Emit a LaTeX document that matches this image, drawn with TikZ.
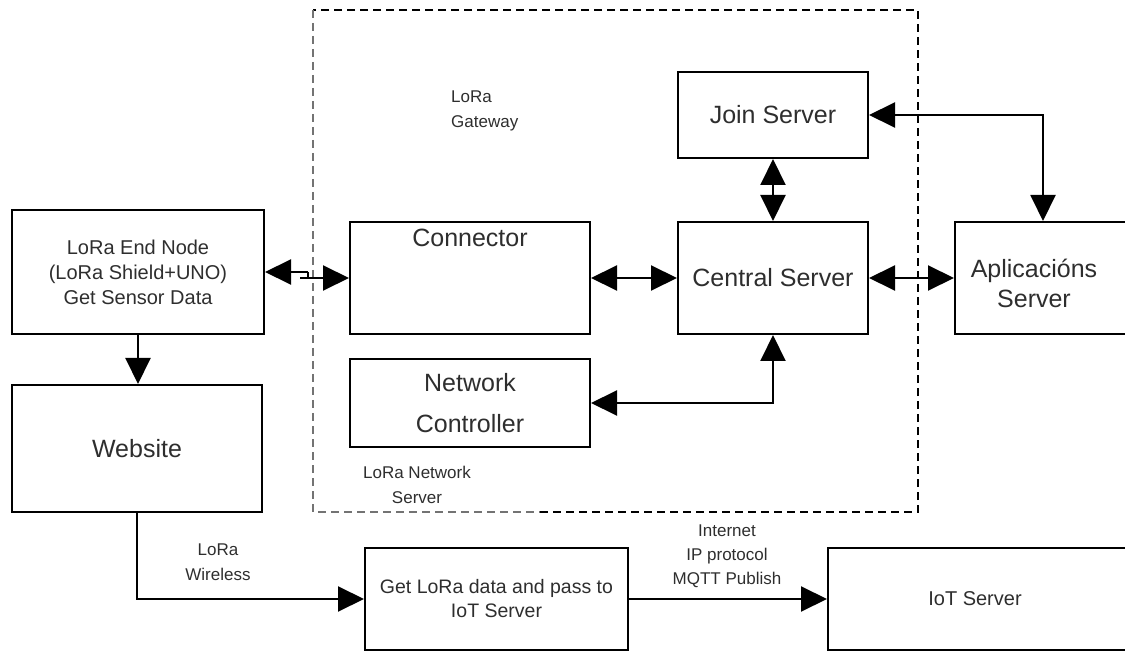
\documentclass[tikz,border=0pt]{standalone}
\usepackage{fontspec}
\setmainfont{Liberation Sans}
\usetikzlibrary{arrows.meta}
\definecolor{ink}{HTML}{2E2E2E}
\tikzset{
  box/.style={draw=black, line width=2pt, inner sep=0pt, align=center, text=ink},
  big/.style={font=\fontsize{25}{30}\selectfont},
  small/.style={font=\fontsize{17}{25}\selectfont, text=ink, inner sep=0pt},
  wire/.style={line width=2pt},
  tip/.tip={Triangle[length=26pt,width=25pt]},
  one/.style={wire, -tip},
  two/.style={wire, tip-tip},
  zone/.style={line width=2.4pt, dash pattern=on 8pt off 5pt},
}
\begin{document}
\begin{tikzpicture}[x=1pt,y=-1pt]
\useasboundingbox (0,0) rectangle (1125,652);

% network server frame
\draw[zone, black] (540,512) -- (918,512) -- (918,10) -- (313,10);
\draw[zone, black!55] (313,10) -- (313,512) -- (540,512);

% boxes
\node[box, minimum width=252, minimum height=124, font=\fontsize{20}{25}\selectfont]
  (endnode) at (138,272) {LoRa End Node\\(LoRa Shield+UNO)\\Get Sensor Data};
\node[box, big, minimum width=250, minimum height=127] (website) at (137,448.5) {Website};
\node[box, minimum width=240, minimum height=112,
  label={[big, text=ink, anchor=north, inner sep=0pt, yshift=-8pt]north:Connector}]
  (connector) at (470,278) {};
\node[box, big, minimum width=190, minimum height=112] (central) at (773,278) {Central Server};
\node[box, big, minimum width=190, minimum height=86] (join) at (773,115) {Join Server};
\node[box, font=\fontsize{25}{41}\selectfont, minimum width=240, minimum height=88]
  (netctrl) at (470,403) {Network\\Controller};
\node[box, minimum width=176, minimum height=112] (apps) at (1043,278) {};
\node[big, text=ink, align=center, inner sep=0pt] (appstext) at (1034,283) {Aplicacións\\Server};
\node[box, font=\fontsize{19.5}{24}\selectfont, minimum width=263, minimum height=102]
  (getlora) at (496.5,599) {Get LoRa data and pass to\\IoT Server};
\node[box, minimum width=307, minimum height=102] (iot) at (981.5,599) {};
\node[text=ink, font=\fontsize{20}{24}\selectfont, inner sep=0pt] (iottext) at (975,599) {IoT Server};

% free labels
\node[small, align=left, anchor=west] (gw) at (451,111) {LoRa\\Gateway};
\node[small, align=center] (nsrv) at (417,485) {LoRa Network\\Server};
\node[small, align=center] (wl) at (218,562) {LoRa\\Wireless};
\node[small, align=center, font=\fontsize{17}{24}\selectfont] (inet) at (727,556) {Internet\\IP protocol\\MQTT Publish};

% connectors
\coordinate (ja) at (308,272);
\coordinate (jb) at (300,278);
\draw[one] (ja) -- (endnode.east);
\draw[one] (jb) -- (connector.west);
\draw[wire] (ja) -- (ja |- jb);
\draw[one] (endnode.south) -- (endnode.south |- website.north);
\draw[two] (connector.east) -- (central.west);
\draw[two] (join.south) -- (central.north);
\draw[two] (central.east) -- (apps.west);
\draw[two] (join.east) -| (apps.north);
\draw[two] (central.south) |- (netctrl.east);
\draw[one] (website.south) |- (getlora.west);
\draw[one] (getlora.east) -- (iot.west);
\end{tikzpicture}
\end{document}
